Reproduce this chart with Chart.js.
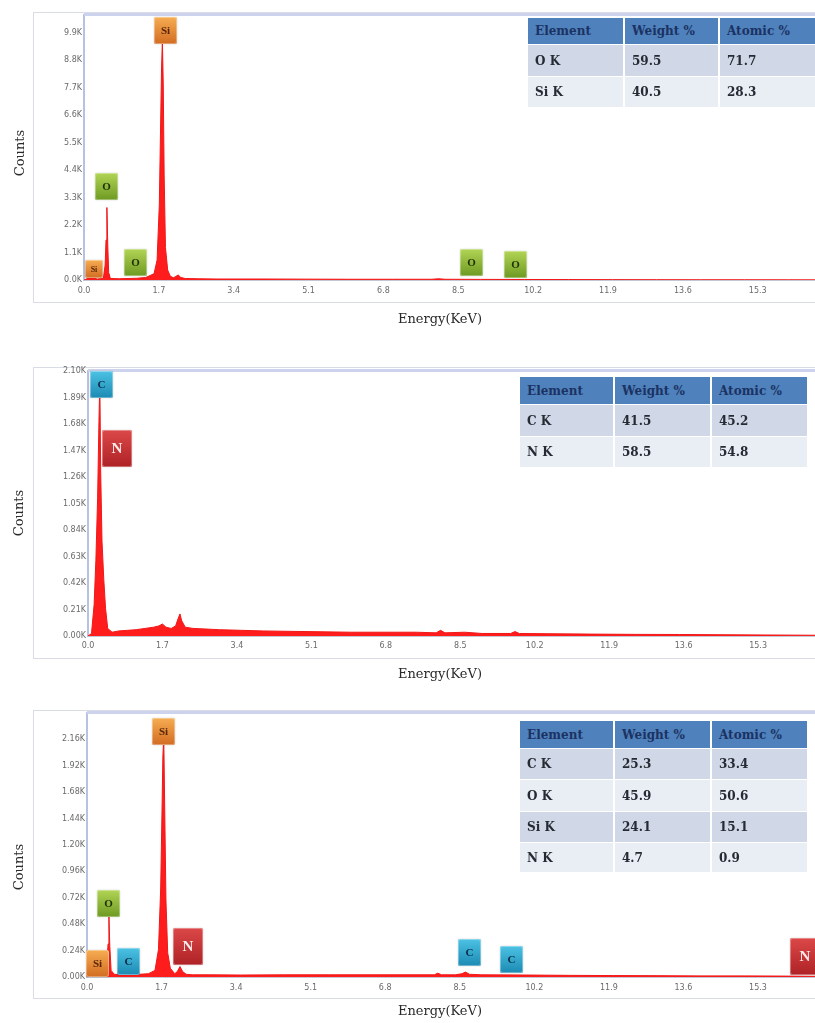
<!DOCTYPE html>
<html>
<head>
<meta charset="utf-8">
<script src="https://cdn.jsdelivr.net/npm/chart.js@4.4.1/dist/chart.umd.min.js"></script>
<style>
  html, body { margin: 0; padding: 0; background: #fff; }
  body { position: relative; width: 815px; height: 1023px; overflow: hidden; }
  .frame { position: absolute; left: 33px; width: 830px; border: 1px solid #d9dce4; box-sizing: border-box; }
  .panel { position: absolute; left: 0; }
  .panel canvas { display: block; }
  table.eds { position: absolute; border-collapse: separate; border-spacing: 0; table-layout: fixed;
              font-family: "DejaVu Serif", "Liberation Serif", serif; font-weight: bold; font-size: 12px; z-index: 5; }
  table.eds th, table.eds td { padding: 0 0 0 7px; text-align: left; white-space: nowrap; overflow: hidden;
              border-right: 2px solid #fff; border-bottom: 1px solid #fff; }
  table.eds th:last-child, table.eds td:last-child { border-right: none; }
  table.eds th { background: #4f81bd; color: #1b3262; }
  table.eds td { color: #262a33; }
  table.eds tr.odd td { background: #d0d8e8; }
  table.eds tr.even td { background: #e9edf4; }
</style>
</head>
<body>
<script>
// ---------- shared axis ticks ----------
const xTickValues = [0.0, 1.7, 3.4, 5.1, 6.8, 8.5, 10.2, 11.9, 13.6, 15.3];

// ---------- spectrum 1 : SiO2 (counts in thousands) ----------
const energy1 = [0.00,0.08,0.14,0.20,0.30,0.44,0.48,0.50,0.52,0.54,0.56,0.60,0.80,1.00,1.20,1.40,1.59,1.66,1.71,1.74,
                 1.76,1.78,1.80,1.82,1.85,1.90,1.96,2.03,2.08,2.14,2.20,2.30,2.60,3.00,4.00,5.00,6.00,7.00,7.90,8.05,
                 8.20,9.00,10.0,11.0,12.0,13.0,14.0,15.0,16.0,16.6];
const counts1 = [0.00,0.06,0.16,0.08,0.04,0.06,0.60,1.60,2.90,1.40,0.30,0.06,0.05,0.06,0.07,0.10,0.25,0.80,3.00,6.20,
                 8.40,9.60,7.80,4.20,1.30,0.40,0.15,0.09,0.14,0.20,0.10,0.06,0.05,0.04,0.04,0.035,0.03,0.03,0.03,0.05,
                 0.03,0.025,0.02,0.018,0.015,0.012,0.01,0.01,0.008,0.006];
const yTicks1 = [0.0, 1.1, 2.2, 3.3, 4.4, 5.5, 6.6, 7.7, 8.8, 9.9];
const tagSymbols1 = ['Si', 'O', 'O', 'Si', 'O', 'O'];
const tagEnergy1  = [0.23, 0.51, 1.18, 1.85, 8.79, 9.81];
const tagCounts1  = [0.08, 3.21, 0.16, 9.44, 0.16, 0.08];
const tableElements1 = ['O K', 'Si K'];
const tableWeight1   = [59.5, 40.5];
const tableAtomic1   = [71.7, 28.3];

// ---------- spectrum 2 : g-C3N4 ----------
const energy2 = [0.00,0.08,0.14,0.18,0.22,0.25,0.27,0.29,0.32,0.36,0.40,0.45,0.55,0.70,0.90,1.10,1.30,1.50,1.62,1.70,
                 1.78,1.90,2.00,2.06,2.10,2.14,2.22,2.40,2.70,3.00,3.50,4.00,5.00,6.00,7.00,7.50,7.95,8.05,8.15,8.60,
                 9.00,9.65,9.75,9.85,10.5,11.5,12.5,13.5,14.5,15.5,16.6];
const counts2 = [0.00,0.02,0.25,0.60,1.10,1.70,2.02,1.30,0.75,0.45,0.22,0.06,0.03,0.04,0.045,0.05,0.06,0.07,0.08,0.095,
                 0.07,0.06,0.08,0.14,0.175,0.12,0.07,0.06,0.055,0.05,0.045,0.04,0.035,0.03,0.03,0.03,0.025,0.045,0.025,0.03,
                 0.02,0.02,0.035,0.02,0.018,0.015,0.013,0.012,0.01,0.008,0.006];
const yTicks2 = [0.00, 0.21, 0.42, 0.63, 0.84, 1.05, 1.26, 1.47, 1.68, 1.89, 2.10];
const tagSymbols2 = ['C', 'N'];
const tagEnergy2  = [0.31, 0.67];
const tagCounts2  = [1.886, 1.34];
const tableElements2 = ['C K', 'N K'];
const tableWeight2   = [41.5, 58.5];
const tableAtomic2   = [45.2, 54.8];

// ---------- spectrum 3 : composite ----------
const energy3 = [0.00,0.10,0.20,0.26,0.32,0.40,0.45,0.48,0.50,0.52,0.55,0.62,0.80,1.00,1.20,1.40,1.55,1.63,1.68,1.71,
                 1.73,1.75,1.77,1.80,1.84,1.90,2.00,2.06,2.12,2.18,2.26,2.40,2.80,3.50,4.50,5.50,6.50,7.50,7.92,8.00,
                 8.08,8.40,8.55,8.63,8.72,9.00,10.0,11.0,12.0,13.0,14.0,15.0,16.0,16.6];
const counts3 = [0.00,0.05,0.08,0.06,0.03,0.03,0.10,0.30,0.55,0.28,0.06,0.025,0.02,0.02,0.025,0.03,0.06,0.25,0.80,1.50,
                 2.00,2.20,1.60,0.70,0.22,0.08,0.03,0.05,0.095,0.05,0.025,0.02,0.02,0.018,0.02,0.02,0.02,0.02,0.02,0.035,
                 0.02,0.02,0.03,0.045,0.025,0.02,0.018,0.015,0.013,0.012,0.01,0.01,0.008,0.006];
const yTicks3 = [0.00, 0.24, 0.48, 0.72, 0.96, 1.20, 1.44, 1.68, 1.92, 2.16];
const tagSymbols3 = ['Si', 'O', 'C', 'Si', 'N', 'C', 'C', 'N'];
const tagEnergy3  = [0.24, 0.50, 0.95, 1.74, 2.30, 8.72, 9.68, 16.37];
const tagCounts3  = [0.00, 0.545, 0.02, 2.11, 0.11, 0.10, 0.036, 0.02];
const tableElements3 = ['C K', 'O K', 'Si K', 'N K'];
const tableWeight3   = [25.3, 45.9, 24.1, 4.7];
const tableAtomic3   = [33.4, 50.6, 15.1, 0.9];

// ---------- drawing styles ----------
const tagPalette = {
  Si: { top: '#f6ad52', bottom: '#d26c22', text: '#5a2408' },
  O:  { top: '#b1d455', bottom: '#6e9a22', text: '#1d3006' },
  C:  { top: '#4cc2e4', bottom: '#1c8ab3', text: '#0b2944' },
  N:  { top: '#dc4848', bottom: '#ae2226', text: '#fbeaea' }
};
function tagSize(sym, small) {
  if (small) return [18, 18];
  return sym === 'N' ? [30, 37] : [23, 27];
}

function roundRect(ctx, x, y, w, h, r) {
  ctx.beginPath();
  ctx.moveTo(x + r, y);
  ctx.lineTo(x + w - r, y); ctx.quadraticCurveTo(x + w, y, x + w, y + r);
  ctx.lineTo(x + w, y + h - r); ctx.quadraticCurveTo(x + w, y + h, x + w - r, y + h);
  ctx.lineTo(x + r, y + h); ctx.quadraticCurveTo(x, y + h, x, y + h - r);
  ctx.lineTo(x, y + r); ctx.quadraticCurveTo(x, y, x + r, y);
  ctx.closePath();
}

function drawTag(ctx, sym, cx, by, w, h) {
  const pal = tagPalette[sym];
  const x = Math.round(cx - w / 2), y = Math.round(by - h);
  ctx.save();
  ctx.shadowColor = 'rgba(0,0,0,0.18)';
  ctx.shadowBlur = 2;
  const g = ctx.createLinearGradient(0, y, 0, y + h);
  g.addColorStop(0, pal.top);
  g.addColorStop(1, pal.bottom);
  ctx.fillStyle = g;
  roundRect(ctx, x, y, w, h, 2);
  ctx.fill();
  ctx.shadowColor = 'transparent';
  ctx.strokeStyle = 'rgba(255,255,255,0.35)';
  ctx.lineWidth = 1;
  roundRect(ctx, x + 0.5, y + 0.5, w - 1, h - 1, 2);
  ctx.stroke();
  const fs = sym === 'N' ? 15 : (w < 20 ? 8 : 11);
  ctx.fillStyle = pal.text;
  ctx.font = 'bold ' + fs + 'px "Liberation Serif", serif';
  ctx.textAlign = 'center';
  ctx.textBaseline = 'middle';
  ctx.fillText(sym, x + w / 2, y + h / 2 + 1);
  ctx.restore();
}

function buildTable(elements, weight, atomic, pos) {
  const t = document.createElement('table');
  t.className = 'eds';
  t.style.left = pos.left + 'px';
  t.style.top = pos.top + 'px';
  const cg = document.createElement('colgroup');
  pos.cols.forEach(w => { const c = document.createElement('col'); c.style.width = w + 'px'; cg.appendChild(c); });
  t.appendChild(cg);
  t.style.width = pos.cols.reduce((a, b) => a + b, 0) + 'px';
  const head = document.createElement('tr');
  head.style.height = pos.rows[0] + 'px';
  ['Element', 'Weight %', 'Atomic %'].forEach(s => { const th = document.createElement('th'); th.textContent = s; head.appendChild(th); });
  t.appendChild(head);
  elements.forEach((el, i) => {
    const tr = document.createElement('tr');
    tr.className = i % 2 === 0 ? 'odd' : 'even';
    tr.style.height = pos.rows[i + 1] + 'px';
    [el, weight[i].toFixed(1), atomic[i].toFixed(1)].forEach(s => { const td = document.createElement('td'); td.textContent = s; tr.appendChild(td); });
    t.appendChild(tr);
  });
  document.body.appendChild(t);
}

function buildPanel(p) {
  const frame = document.createElement('div');
  frame.className = 'frame';
  frame.style.top = p.frameTop + 'px';
  frame.style.height = p.frameHeight + 'px';
  document.body.appendChild(frame);

  const wrap = document.createElement('div');
  wrap.className = 'panel';
  wrap.style.top = p.top + 'px';
  const canvas = document.createElement('canvas');
  canvas.width = 815; canvas.height = p.height;
  canvas.style.width = '815px'; canvas.style.height = p.height + 'px';
  wrap.appendChild(canvas);
  document.body.appendChild(wrap);

  const decor = {
    id: 'edsDecor',
    beforeDatasetsDraw(chart) {
      const { ctx, chartArea: a } = chart;
      ctx.save();
      ctx.fillStyle = '#cdd3ec';
      ctx.fillRect(a.left, a.top - 2, a.right - a.left, 3);
      ctx.restore();
    },
    afterDatasetsDraw(chart) {
      const ctx = chart.ctx, xs = chart.scales.x, ys = chart.scales.y;
      p.tags.sym.forEach((sym, i) => {
        const [w, h] = tagSize(sym, p.smallTags.includes(i));
        drawTag(ctx, sym, xs.getPixelForValue(p.tags.energy[i]), ys.getPixelForValue(p.tags.counts[i]), w, h);
      });
    },
    afterDraw(chart) {
      const ctx = chart.ctx;
      ctx.save();
      ctx.fillStyle = '#2a2a2a';
      ctx.font = '13px "DejaVu Serif", serif';
      ctx.textAlign = 'center';
      ctx.textBaseline = 'middle';
      ctx.fillText('Energy(KeV)', p.xTitle[0], p.xTitle[1]);
      ctx.translate(p.yTitle[0], p.yTitle[1]);
      ctx.rotate(-Math.PI / 2);
      ctx.fillText('Counts', 0, 0);
      ctx.restore();
    }
  };

  new Chart(canvas, {
    type: 'line',
    data: {
      datasets: [{
        data: p.energy.map((e, i) => ({ x: e, y: p.counts[i] })),
        borderColor: '#f01818',
        backgroundColor: '#ff1c1c',
        borderWidth: 1,
        fill: 'origin',
        pointRadius: 0,
        tension: 0
      }]
    },
    options: {
      responsive: false,
      animation: false,
      devicePixelRatio: 1,
      layout: { padding: { top: p.padTop, left: 0, right: 0, bottom: 0 } },
      plugins: { legend: { display: false }, tooltip: { enabled: false } },
      scales: {
        x: {
          type: 'linear', min: 0, max: 16.6,
          grid: { display: false, drawTicks: false },
          border: { color: '#c4c6d2', width: 1 },
          afterBuildTicks: s => { s.ticks = xTickValues.map(v => ({ value: v })); },
          afterFit: s => { s.height = p.xAxisHeight; },
          ticks: { autoSkip: false, maxRotation: 0, padding: p.xTickPad, color: '#6a6a6a',
                   font: { family: '"DejaVu Sans", sans-serif', size: 8 },
                   callback: v => v.toFixed(1) }
        },
        y: {
          type: 'linear', min: 0, max: p.yMax,
          grid: { display: false, drawTicks: false },
          border: { color: '#b7c1e2', width: 2 },
          afterBuildTicks: s => { s.ticks = p.yTicks.map(v => ({ value: v })); },
          afterFit: s => { s.width = p.left; },
          ticks: { autoSkip: false, padding: 2, color: '#6a6a6a',
                   font: { family: '"DejaVu Sans", sans-serif', size: 8 },
                   callback: v => v.toFixed(p.decimals) + 'K' }
        }
      }
    },
    plugins: [decor]
  });
}

buildPanel({
  top: 0, height: 335, frameTop: 12, frameHeight: 291,
  padTop: 15, left: 84, xAxisHeight: 55, xTickPad: 6, yMax: 10.6, decimals: 1,
  energy: energy1, counts: counts1, yTicks: yTicks1,
  tags: { sym: tagSymbols1, energy: tagEnergy1, counts: tagCounts1 }, smallTags: [0],
  xTitle: [440, 320], yTitle: [21, 153]
});
buildPanel({
  top: 350, height: 340, frameTop: 367, frameHeight: 292,
  padTop: 21, left: 88, xAxisHeight: 54, xTickPad: 5, yMax: 2.10, decimals: 2,
  energy: energy2, counts: counts2, yTicks: yTicks2,
  tags: { sym: tagSymbols2, energy: tagEnergy2, counts: tagCounts2 }, smallTags: [],
  xTitle: [440, 325], yTitle: [20, 163]
});
buildPanel({
  top: 695, height: 328, frameTop: 710, frameHeight: 289,
  padTop: 18, left: 87, xAxisHeight: 46, xTickPad: 6, yMax: 2.40, decimals: 2,
  energy: energy3, counts: counts3, yTicks: yTicks3,
  tags: { sym: tagSymbols3, energy: tagEnergy3, counts: tagCounts3 }, smallTags: [],
  xTitle: [440, 317], yTitle: [20, 172]
});

buildTable(tableElements1, tableWeight1, tableAtomic1, { left: 528, top: 18, cols: [97, 95, 95], rows: [27, 32, 31] });
buildTable(tableElements2, tableWeight2, tableAtomic2, { left: 520, top: 377, cols: [95, 97, 95], rows: [28, 32, 31] });
buildTable(tableElements3, tableWeight3, tableAtomic3, { left: 520, top: 721, cols: [95, 97, 95], rows: [28, 31, 32, 31, 30] });
</script>
</body>
</html>
